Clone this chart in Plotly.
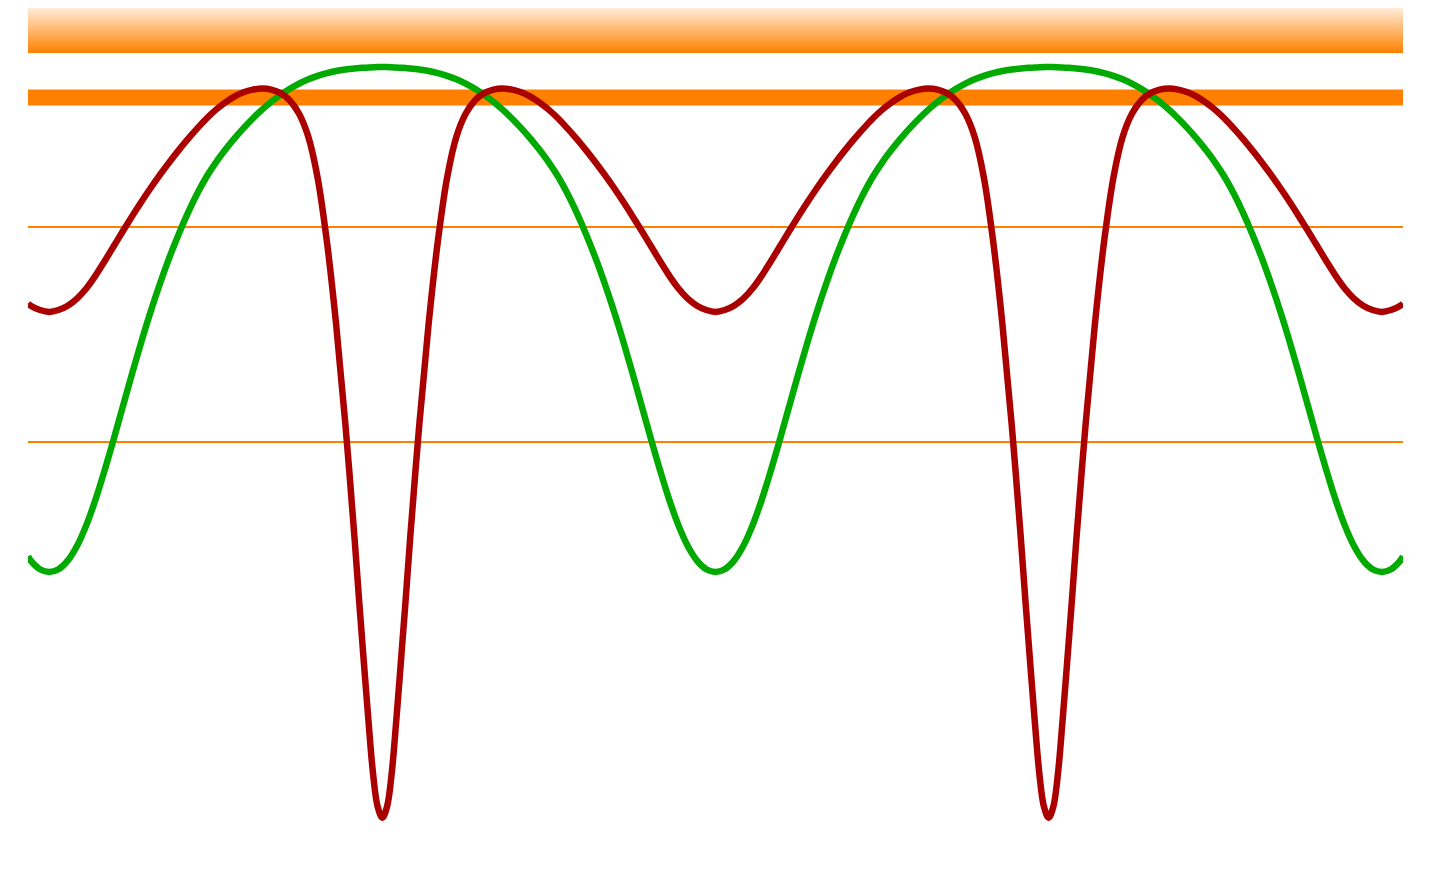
import plotly.graph_objects as go

# phase in degrees (one period = 360); every 5 degrees, every 2.5 around the two red dips
phase = (
    [-11.46] + list(range(-10, 165, 5))
    + [165, 167.5, 170, 172.5, 175, 177.5, 180, 182.5, 185, 187.5, 190, 192.5, 195]
    + list(range(200, 525, 5))
    + [525, 527.5, 530, 532.5, 535, 537.5, 540, 542.5, 545, 547.5, 550, 552.5, 555]
    + list(range(560, 735, 5)) + [731.46]
)

# green curve
green = [
    -0.532, -0.552, -0.592,
    -0.605, -0.592, -0.552, -0.484, -0.388, -0.268, -0.130, 0.018, 0.172, 0.325,
    0.473, 0.612, 0.741, 0.860, 0.968, 1.067, 1.156, 1.234, 1.300, 1.358,
    1.411, 1.460, 1.505, 1.546, 1.583, 1.615, 1.643, 1.667, 1.687, 1.703,
    1.716, 1.726, 1.733,
    1.738, 1.740, 1.741, 1.742, 1.743, 1.744, 1.744, 1.744, 1.743, 1.742, 1.741, 1.740, 1.738,
    1.733, 1.726, 1.716, 1.703, 1.687, 1.667, 1.643, 1.615, 1.583, 1.546,
    1.505, 1.460, 1.411, 1.358, 1.300, 1.234, 1.156, 1.067, 0.968, 0.860,
    0.741, 0.612, 0.473, 0.325, 0.172, 0.018, -0.130, -0.268, -0.388, -0.484,
    -0.552, -0.592, -0.605,
    -0.592, -0.552, -0.484, -0.388, -0.268, -0.130, 0.018, 0.172, 0.325,
    0.473, 0.612, 0.741, 0.860, 0.968, 1.067, 1.156, 1.234, 1.300, 1.358,
    1.411, 1.460, 1.505, 1.546, 1.583, 1.615, 1.643, 1.667, 1.687, 1.703,
    1.716, 1.726, 1.733,
    1.738, 1.740, 1.741, 1.742, 1.743, 1.744, 1.744, 1.744, 1.743, 1.742, 1.741, 1.740, 1.738,
    1.733, 1.726, 1.716, 1.703, 1.687, 1.667, 1.643, 1.615, 1.583, 1.546,
    1.505, 1.460, 1.411, 1.358, 1.300, 1.234, 1.156, 1.067, 0.968, 0.860,
    0.741, 0.612, 0.473, 0.325, 0.172, 0.018, -0.130, -0.268, -0.388, -0.484,
    -0.552, -0.592, -0.605,
    -0.592, -0.552, -0.532,
]

# red curve
red = [
    0.644, 0.634, 0.614,
    0.605, 0.614, 0.634, 0.667, 0.714, 0.774, 0.842, 0.913, 0.984, 1.053,
    1.120, 1.184, 1.245, 1.303, 1.358, 1.410, 1.459, 1.505, 1.545, 1.579,
    1.607, 1.627, 1.639, 1.644, 1.639, 1.623, 1.589, 1.527, 1.420, 1.230,
    0.935, 0.550, 0.085,
    -0.450, -0.744, -1.025, -1.298, -1.545, -1.698, -1.748, -1.698, -1.545, -1.298, -1.025, -0.744, -0.450,
    0.085, 0.550, 0.935, 1.230, 1.420, 1.527, 1.589, 1.623, 1.639, 1.644,
    1.639, 1.627, 1.607, 1.579, 1.545, 1.505, 1.459, 1.410, 1.358, 1.303,
    1.245, 1.184, 1.120, 1.053, 0.984, 0.913, 0.842, 0.774, 0.714, 0.667,
    0.634, 0.614, 0.605,
    0.614, 0.634, 0.667, 0.714, 0.774, 0.842, 0.913, 0.984, 1.053,
    1.120, 1.184, 1.245, 1.303, 1.358, 1.410, 1.459, 1.505, 1.545, 1.579,
    1.607, 1.627, 1.639, 1.644, 1.639, 1.623, 1.589, 1.527, 1.420, 1.230,
    0.935, 0.550, 0.085,
    -0.450, -0.744, -1.025, -1.298, -1.545, -1.698, -1.748, -1.698, -1.545, -1.298, -1.025, -0.744, -0.450,
    0.085, 0.550, 0.935, 1.230, 1.420, 1.527, 1.589, 1.623, 1.639, 1.644,
    1.639, 1.627, 1.607, 1.579, 1.545, 1.505, 1.459, 1.410, 1.358, 1.303,
    1.245, 1.184, 1.120, 1.053, 0.984, 0.913, 0.842, 0.774, 0.714, 0.667,
    0.634, 0.614, 0.605,
    0.614, 0.634, 0.644,
]

# reference levels
thin_levels = [0.0, 1.0]
thick_level = 1.603
band_bottom = 1.81

ORANGE = "#FF8000"
x0, x1 = phase[0], phase[-1]
y_lo, y_hi = -2.033, 2.019

fig = go.Figure()

# gradient band at the top (orange at the bottom fading to white)
fig.add_trace(go.Scatter(
    x=[x0, x1, x1, x0, x0],
    y=[band_bottom, band_bottom, y_hi, y_hi, band_bottom],
    mode="lines",
    line=dict(width=0),
    fill="toself",
    fillgradient=dict(
        type="vertical",
        colorscale=[[0, ORANGE], [1, "#FFFFFF"]],
        start=band_bottom,
        stop=y_hi + 0.035,
    ),
    hoverinfo="skip",
))

fig.add_trace(go.Scatter(
    x=[x0, x1], y=[thick_level, thick_level], mode="lines",
    line=dict(color=ORANGE, width=16), hoverinfo="skip",
))
for lvl in thin_levels:
    fig.add_trace(go.Scatter(
        x=[x0, x1], y=[lvl, lvl], mode="lines",
        line=dict(color=ORANGE, width=2), hoverinfo="skip",
    ))

fig.add_trace(go.Scatter(
    x=phase, y=green, mode="lines",
    line=dict(color="#00AA00", width=6.5, shape="spline"),
))
fig.add_trace(go.Scatter(
    x=phase, y=red, mode="lines",
    line=dict(color="#AA0000", width=6.5, shape="spline"),
))

fig.update_xaxes(visible=False, range=[x0, x1])
fig.update_yaxes(visible=False, range=[y_lo, y_hi])
fig.update_layout(
    showlegend=False,
    plot_bgcolor="white",
    paper_bgcolor="white",
    margin=dict(l=20, r=21, t=0, b=0),
)

fig.write_html("out.html")
